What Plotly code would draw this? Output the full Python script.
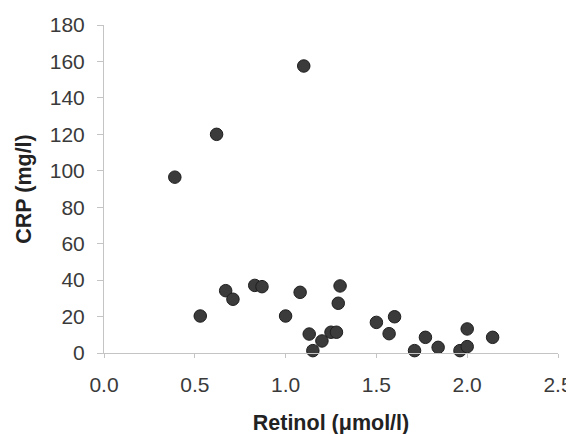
import plotly.graph_objects as go

retinol = [0.39, 0.62, 1.10, 0.53, 0.67, 0.71, 0.83, 0.87, 1.00, 1.08, 1.13, 1.15,
           1.20, 1.25, 1.28, 1.30, 1.29, 1.50, 1.57, 1.60, 1.71, 1.77, 1.84, 1.96,
           2.00, 2.00, 2.14]
crp = [96.5, 120, 157.5, 20.3, 34.2, 29.5, 37.1, 36.4, 20.3, 33.3, 10.4, 1.3,
       6.6, 11.4, 11.4, 36.8, 27.3, 16.8, 10.6, 19.9, 1.3, 8.6, 3.1, 1.3,
       3.5, 13.2, 8.6]

x_ticks = [0.0, 0.5, 1.0, 1.5, 2.0, 2.5]
y_ticks = [0, 20, 40, 60, 80, 100, 120, 140, 160, 180]

fig = go.Figure(go.Scatter(
    x=retinol, y=crp, mode="markers", cliponaxis=False,
    marker=dict(size=12.5, color="#3b3b3b", line=dict(color="#1e1e1e", width=1)),
))

font_ticks = dict(family="Liberation Sans, Arial, sans-serif", size=21, color="#3a3a3a")
font_title = dict(family="Liberation Sans, Arial, sans-serif", size=21.5, color="#222222")

fig.update_layout(
    width=574, height=434,
    margin=dict(l=96, r=24, t=17, b=89, autoexpand=False),
    paper_bgcolor="white", plot_bgcolor="white",
    showlegend=False,
    xaxis=dict(
        range=[0, 2.5], tickvals=x_ticks, ticktext=[f"{v:.1f}" for v in x_ticks],
        automargin=False,
        showgrid=False, zeroline=False, showline=True, linecolor="#c4c4c4", linewidth=1,
        ticks="outside", ticklen=4, tickcolor="#c4c4c4", tickfont=font_ticks,
        ticklabelstandoff=9,
        title=dict(text="<b>Retinol (\u03bcmol/l)</b>", font=font_title, standoff=19),
    ),
    yaxis=dict(
        range=[0, 180], tickvals=y_ticks,
        automargin=False,
        showgrid=False, zeroline=False, showline=True, linecolor="#c4c4c4", linewidth=1,
        ticks="outside", ticklen=6, tickcolor="#c4c4c4", tickfont=font_ticks,
        ticklabelstandoff=8,
        title=dict(text="<b>CRP (mg/l)</b>", font=font_title, standoff=12),
    ),
)

fig.write_html("out.html")
